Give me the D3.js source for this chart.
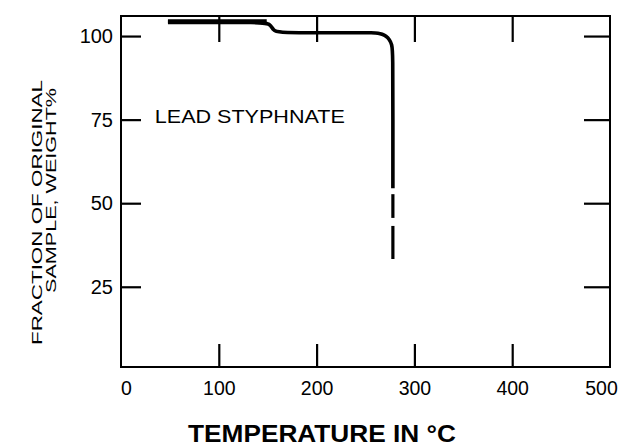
<!DOCTYPE html>
<html>
<head>
<meta charset="utf-8">
<script src="https://cdn.jsdelivr.net/npm/d3@7"></script>
<style>
  html, body { margin: 0; padding: 0; background: #fff; }
  svg { display: block; }
  text { font-family: "Liberation Sans", Arial, Helvetica, sans-serif; fill: #000; }
</style>
</head>
<body>
<script>
// ---- data ----
const xTickValues = [0, 100, 200, 300, 400, 500];
const xInnerTicks = [100, 200, 300, 400];
const yTickValues = [25, 50, 75, 100];
// TGA curve of lead styphnate: temperature (°C), weight %
const curveTemp   = [48, 149, 153, 156, 159, 200, 240, 257.7, 263, 267, 271, 274.5, 277, 278, 278, 278];
const curveWeight = [104.3, 104.3, 103.2, 101.8, 101, 101, 101, 101, 100.9, 100.6, 100, 99, 97.5, 95, 75, 54.5];
// dashed tail of the vertical drop
const tailTemp    = [278, 278];
const tailSeg1    = [52.7, 45.6];
const tailSeg2    = [43.2, 33.3];
const labelText = "LEAD STYPHNATE";
const labelAt = [9, 74]; // temperature, weight where the label begins
const xTitle = "TEMPERATURE IN °C";
const yTitle1 = "FRACTION OF ORIGINAL";
const yTitle2 = "SAMPLE, WEIGHT%";

// ---- layout ----
const W = 631, H = 446;
const mLeft = 121, mRight = 610, mTop = 16, mBottom = 367;

const svg = d3.select("body").append("svg").attr("width", W).attr("height", H);

const x = d3.scaleLinear().domain([0, 500]).range([mLeft, mRight]);
const y = d3.scaleLinear().domain([1, 106]).range([mBottom, mTop]);

// frame
svg.append("rect")
  .attr("x", mLeft).attr("y", mTop)
  .attr("width", mRight - mLeft).attr("height", mBottom - mTop)
  .attr("fill", "none").attr("stroke", "#000").attr("stroke-width", 2);

function styleAxis(g) {
  g.select(".domain").remove();
  g.selectAll(".tick line").attr("stroke", "#000").attr("stroke-width", 2.2);
}

// bottom axis: labels + inward ticks
const gB = svg.append("g").attr("transform", `translate(0,${mBottom})`)
  .call(d3.axisBottom(x).tickValues(xTickValues).tickSize(-23).tickPadding(14).tickFormat(d3.format("d")));
styleAxis(gB);
gB.selectAll(".tick line").filter(d => d === 0 || d === 500).remove();
gB.selectAll("text").attr("font-size", 19.5).attr("fill", "#000").attr("dy", "0.71em")
  .attr("dx", d => d === 0 ? 5 : (d === 500 ? -9 : 0));

// top axis: inward ticks only
const gT = svg.append("g").attr("transform", `translate(0,${mTop})`)
  .call(d3.axisTop(x).tickValues(xInnerTicks).tickSize(-26).tickFormat(""));
styleAxis(gT);

// left axis
const gL = svg.append("g").attr("transform", `translate(${mLeft},0)`)
  .call(d3.axisLeft(y).tickValues(yTickValues).tickSize(-20).tickPadding(8).tickFormat(d3.format("d")));
styleAxis(gL);
gL.selectAll("text").attr("font-size", 20).attr("fill", "#000");

// right axis
const gR = svg.append("g").attr("transform", `translate(${mRight},0)`)
  .call(d3.axisRight(y).tickValues(yTickValues).tickSize(-26).tickFormat(""));
styleAxis(gR);

// curve
const pts = curveTemp.map((t, i) => [t, curveWeight[i]]);
// upper thick plateau
svg.append("path")
  .datum(pts.slice(0, 2))
  .attr("d", d3.line().x(d => x(d[0])).y(d => y(d[1])))
  .attr("fill", "none").attr("stroke", "#000").attr("stroke-width", 5);
svg.append("path")
  .datum(pts)
  .attr("d", d3.line().x(d => x(d[0])).y(d => y(d[1])).curve(d3.curveBasis))
  .attr("fill", "none").attr("stroke", "#000").attr("stroke-width", 3.6)
  .attr("stroke-linejoin", "round");
[tailSeg1, tailSeg2].forEach(seg => {
  svg.append("path")
    .datum(seg.map((v, i) => [tailTemp[i], v]))
    .attr("d", d3.line().x(d => x(d[0])).y(d => y(d[1])))
    .attr("fill", "none").attr("stroke", "#000").attr("stroke-width", 3.2);
});

// label
svg.append("text")
  .attr("x", x(labelAt[0]) + 25).attr("y", y(labelAt[1]))
  .attr("font-size", 18)
  .attr("textLength", 190).attr("lengthAdjust", "spacingAndGlyphs")
  .text(labelText);

// x title
svg.append("text")
  .attr("x", 322).attr("y", 442)
  .attr("text-anchor", "middle")
  .attr("font-size", 24).attr("font-weight", "bold")
  .attr("textLength", 268).attr("lengthAdjust", "spacingAndGlyphs")
  .text(xTitle);

// y title (two lines)
svg.append("text")
  .attr("transform", "translate(42,212.5) rotate(-90)")
  .attr("text-anchor", "middle")
  .attr("font-size", 15)
  .attr("textLength", 265).attr("lengthAdjust", "spacingAndGlyphs")
  .text(yTitle1);
svg.append("text")
  .attr("transform", "translate(56,190.5) rotate(-90)")
  .attr("text-anchor", "middle")
  .attr("font-size", 15)
  .attr("textLength", 205).attr("lengthAdjust", "spacingAndGlyphs")
  .text(yTitle2);
</script>
</body>
</html>
